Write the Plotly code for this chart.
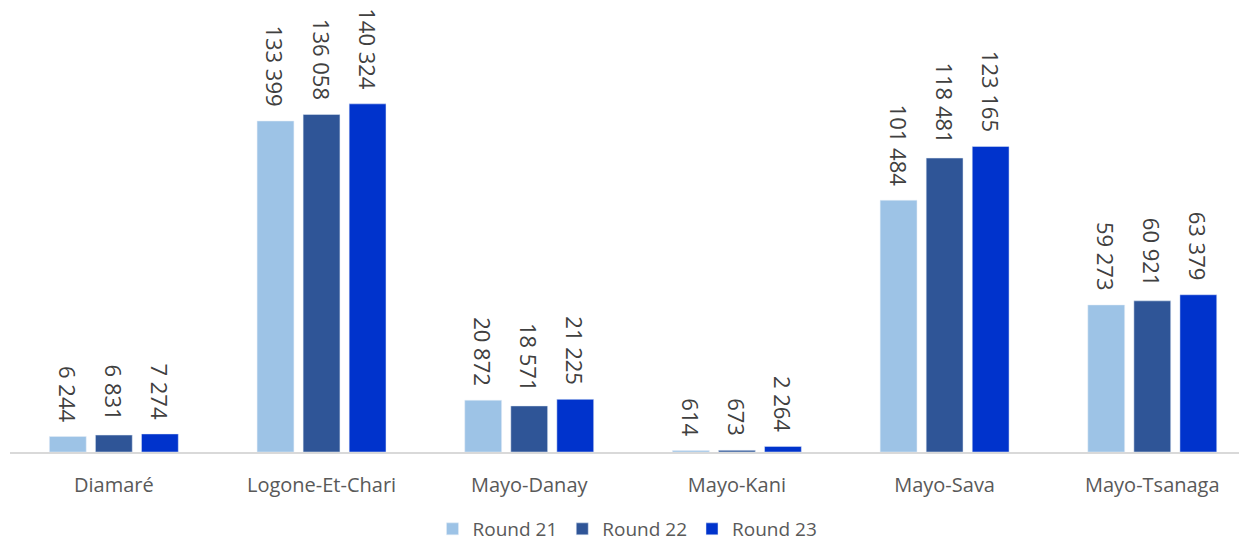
import plotly.graph_objects as go

departments = ["Diamaré", "Logone-Et-Chari", "Mayo-Danay", "Mayo-Kani", "Mayo-Sava", "Mayo-Tsanaga"]
round_21 = [6244, 133399, 20872, 614, 101484, 59273]
round_22 = [6831, 136058, 18571, 673, 118481, 60921]
round_23 = [7274, 140324, 21225, 2264, 123165, 63379]

series = [
    ("Round 21", round_21, "#9DC3E6"),
    ("Round 22", round_22, "#2F5597"),
    ("Round 23", round_23, "#0033CC"),
]


def fmt(v):
    # space as thousands separator, plus padding so the label sits off the bar
    return f"{v:,}".replace(",", " ") + "\u00a0\u00a0"


fig = go.Figure()
for name, vals, color in series:
    fig.add_trace(go.Bar(
        x=departments,
        y=vals,
        name=name,
        marker_color=color,
        text=[fmt(v) for v in vals],
        textposition="outside",
        textangle=90,
        constraintext="none",
        cliponaxis=False,
        textfont=dict(size=22, color="#404040"),
    ))

# page body keeps an 8px margin, so the figure is sized to fit the rest
fig.update_layout(
    width=1239,
    height=536,
    autosize=False,
    barmode="group",
    bargap=0.335,
    bargroupgap=0.2,
    plot_bgcolor="white",
    paper_bgcolor="white",
    font=dict(family="Open Sans, sans-serif", color="#595959"),
    margin=dict(l=2, r=0, t=0, b=92),
    showlegend=True,
    legend=dict(
        orientation="h",
        x=0.5,
        xanchor="center",
        xref="container",
        y=15 / 536,
        yanchor="middle",
        yref="container",
        font=dict(size=19, color="#595959"),
        itemwidth=30,
    ),
    xaxis=dict(
        range=[-0.5, 5.456],
        showline=True,
        linecolor="#D9D9D9",
        linewidth=1.5,
        ticks="",
        ticklabelstandoff=14,
        automargin=False,
        tickfont=dict(size=20, color="#595959"),
    ),
    yaxis=dict(
        range=[0, 178960],
        visible=False,
        showgrid=False,
        automargin=False,
    ),
)

fig.write_html("out.html")
